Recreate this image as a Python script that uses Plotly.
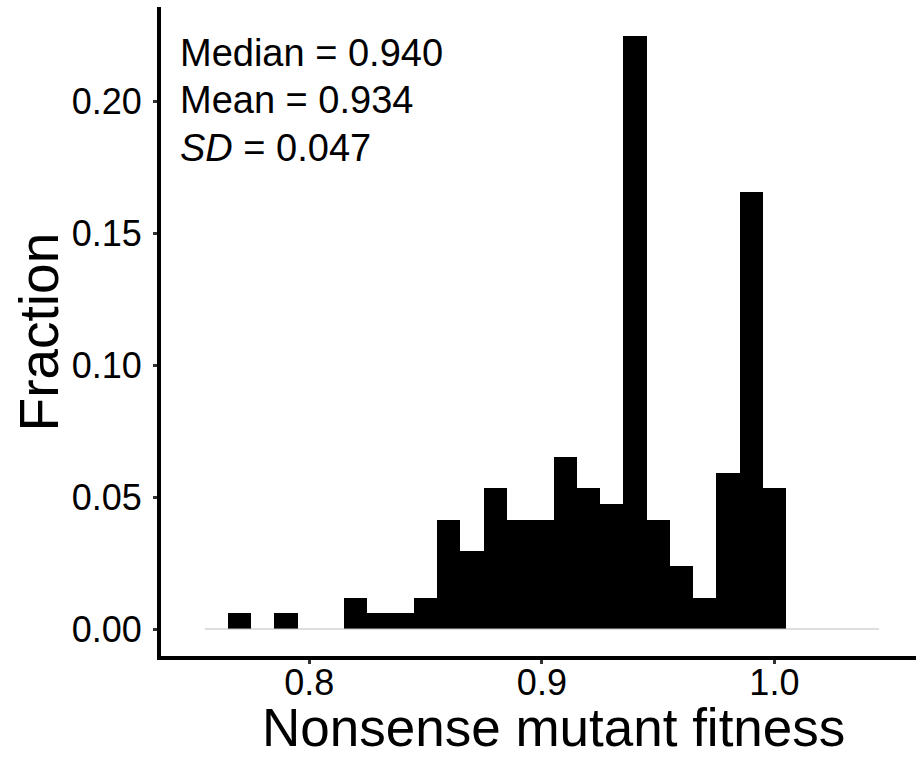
import plotly.graph_objects as go

# Histogram of nonsense mutant fitness (bin width 0.01), y = fraction of genes
bin_centers = [0.76, 0.77, 0.78, 0.79, 0.80, 0.81, 0.82, 0.83, 0.84, 0.85,
               0.86, 0.87, 0.88, 0.89, 0.90, 0.91, 0.92, 0.93, 0.94, 0.95,
               0.96, 0.97, 0.98, 0.99, 1.00, 1.01, 1.02, 1.03, 1.04]
fractions = [0.0, 0.0059, 0.0, 0.0059, 0.0, 0.0, 0.0118, 0.0059, 0.0059, 0.0118,
             0.0414, 0.0296, 0.0533, 0.0414, 0.0414, 0.0651, 0.0533, 0.0473, 0.2249, 0.0414,
             0.0237, 0.0118, 0.0592, 0.1657, 0.0533, 0.0, 0.0, 0.0, 0.0]
bin_width = 0.01

x_ticks = [0.8, 0.9, 1.0]
x_tick_labels = ["0.8", "0.9", "1.0"]
y_ticks = [0.0, 0.05, 0.10, 0.15, 0.20]
y_tick_labels = ["0.00", "0.05", "0.10", "0.15", "0.20"]

stats_lines = ["Median = 0.940", "Mean = 0.934", "<i>SD</i> = 0.047"]

FONT = "Liberation Sans, Arial, Helvetica, sans-serif"

fig = go.Figure()

# thin baseline spanning the full binned range (empty bins)
fig.add_trace(go.Scatter(
    x=[bin_centers[0] - bin_width / 2, bin_centers[-1] + bin_width / 2],
    y=[0, 0],
    mode="lines",
    line=dict(color="#bdbdbd", width=1.2),
    hoverinfo="skip",
    showlegend=False,
))

fig.add_trace(go.Bar(
    x=bin_centers,
    y=fractions,
    width=bin_width,
    marker=dict(color="black", line=dict(width=0)),
    showlegend=False,
))

fig.update_layout(
    width=916,
    height=757,
    margin=dict(l=161, r=0, t=7, b=101),
    paper_bgcolor="white",
    plot_bgcolor="white",
    bargap=0,
    font=dict(family=FONT, color="black"),
    xaxis=dict(
        range=[0.7362, 1.0609],
        tickmode="array",
        tickvals=x_ticks,
        ticktext=x_tick_labels,
        showgrid=False,
        zeroline=False,
        showline=True,
        linecolor="black",
        linewidth=4,
        ticks="outside",
        ticklen=4,
        tickwidth=3,
        tickcolor="#333333",
        tickfont=dict(size=36, color="black", family=FONT),
        ticklabelstandoff=-12,
    ),
    yaxis=dict(
        range=[-0.01023, 0.2357],
        tickmode="array",
        tickvals=y_ticks,
        ticktext=y_tick_labels,
        showgrid=False,
        zeroline=False,
        showline=True,
        linecolor="black",
        linewidth=4,
        ticks="outside",
        ticklen=4,
        tickwidth=3,
        tickcolor="#333333",
        tickfont=dict(size=36, color="black", family=FONT),
        ticklabelstandoff=4,
    ),
    annotations=[
        dict(text="Nonsense mutant fitness", xref="paper", yref="paper",
             x=0.52, y=-0.062, xanchor="center", yanchor="top",
             showarrow=False, font=dict(size=53, family=FONT, color="black")),
        dict(text="Fraction", xref="paper", yref="paper",
             x=-0.118, y=0.5, xanchor="right", yanchor="middle", textangle=-90,
             showarrow=False, font=dict(size=55, family=FONT, color="black")),
    ] + [
        dict(text=line, xref="paper", yref="paper",
             x=0.022, y=1 - (0.071 + 0.073 * i), xanchor="left", yanchor="middle",
             showarrow=False, font=dict(size=38, family=FONT, color="black"))
        for i, line in enumerate(stats_lines)
    ],
)

fig.write_html("out.html")
